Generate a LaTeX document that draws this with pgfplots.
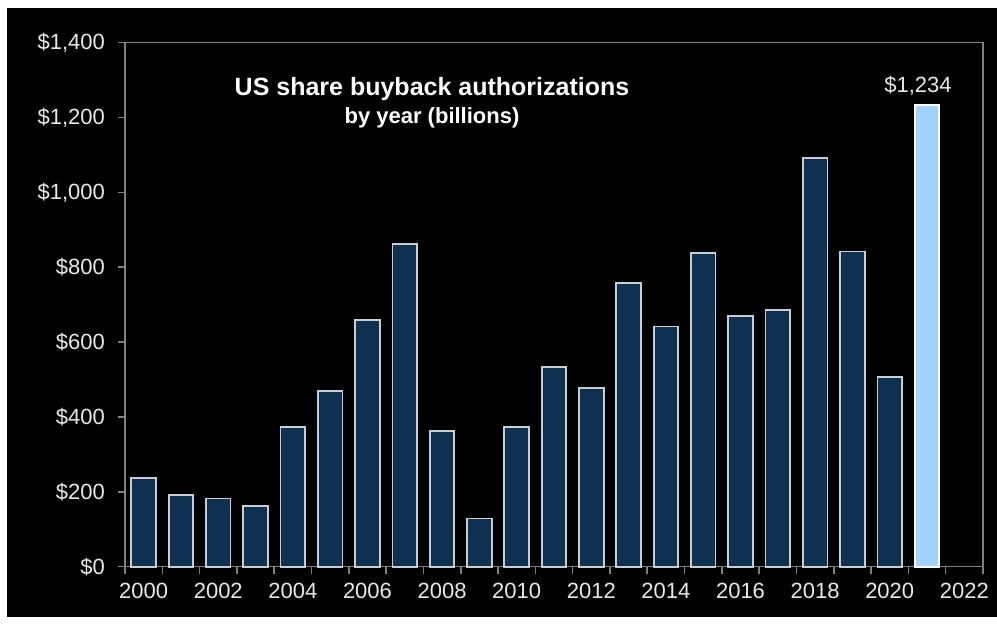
\documentclass[border=0pt]{standalone}
\usepackage{fontspec}
\setmainfont{Liberation Sans}
\usepackage{pgfplots}
\pgfplotsset{compat=1.18}
\definecolor{navybar}{HTML}{0E3152}
\definecolor{lightbar}{HTML}{A0D4FF}
\definecolor{baredge}{HTML}{C8CDD2}
\definecolor{axgray}{HTML}{7F7F7F}
\definecolor{ticktxt}{HTML}{E8E8E8}
\begin{document}
\begin{tikzpicture}
\useasboundingbox[fill=white] (-62.5pt,-29.15pt) rectangle (436pt,283.35pt);
\fill[black] (-59pt,-25.15pt) rectangle (436pt,279.35pt);
\begin{axis}[
  at={(0pt,0pt)}, anchor=south west,
  scale only axis, width=429pt, height=262pt,
  xmin=-0.5, xmax=22.5, ymin=0, ymax=1400,
  axis line style={axgray, line width=0.8pt},
  xtick={0,2,...,22},
  xticklabels={2000,2002,2004,2006,2008,2010,2012,2014,2016,2018,2020,2022},
  minor xtick={-0.5,0.5,...,22.5},
  every major x tick/.append style={draw=none},
  ytick={0,200,...,1400},
  yticklabels={\$0,\$200,\$400,\$600,\$800,{\$1,000},{\$1,200},{\$1,400}},
  xtick pos=bottom, ytick pos=left,
  tick align=outside,
  major tick length=3.5pt, minor tick length=3.5pt,
  tick style={axgray, line width=0.8pt},
  minor tick style={axgray, line width=0.8pt},
  tick label style={font=\fontsize{11}{13}\selectfont, text=ticktxt},
  yticklabel style={xshift=-3pt},
  xticklabel style={yshift=-1pt},
  clip=false,
]
\addplot[ybar, bar shift=0pt, bar width=0.66, fill=navybar, draw=baredge, line width=0.9pt]
  coordinates {
  (0,236) (1,191) (2,182) (3,162) (4,373) (5,469) (6,660) (7,862)
  (8,362) (9,129) (10,373) (11,533) (12,478) (13,757) (14,642) (15,838)
  (16,669) (17,685) (18,1091) (19,842) (20,507)
  };
\addplot[ybar, bar shift=0pt, bar width=0.66, fill=lightbar, draw=white, line width=0.9pt,
  nodes near coords={\$1{,}234},
  every node near coord/.append style={font=\fontsize{11}{13}\selectfont, text=ticktxt, yshift=1pt, xshift=-4.5pt}]
  coordinates {(21,1234)};
\node[font=\bfseries\fontsize{12.5}{15}\selectfont, text=white] at (axis cs:7.73,1275) {US share buyback authorizations};
\node[font=\bfseries\fontsize{11}{13}\selectfont, text=white] at (axis cs:7.73,1200) {by year (billions)};
\end{axis}
\end{tikzpicture}
\end{document}
